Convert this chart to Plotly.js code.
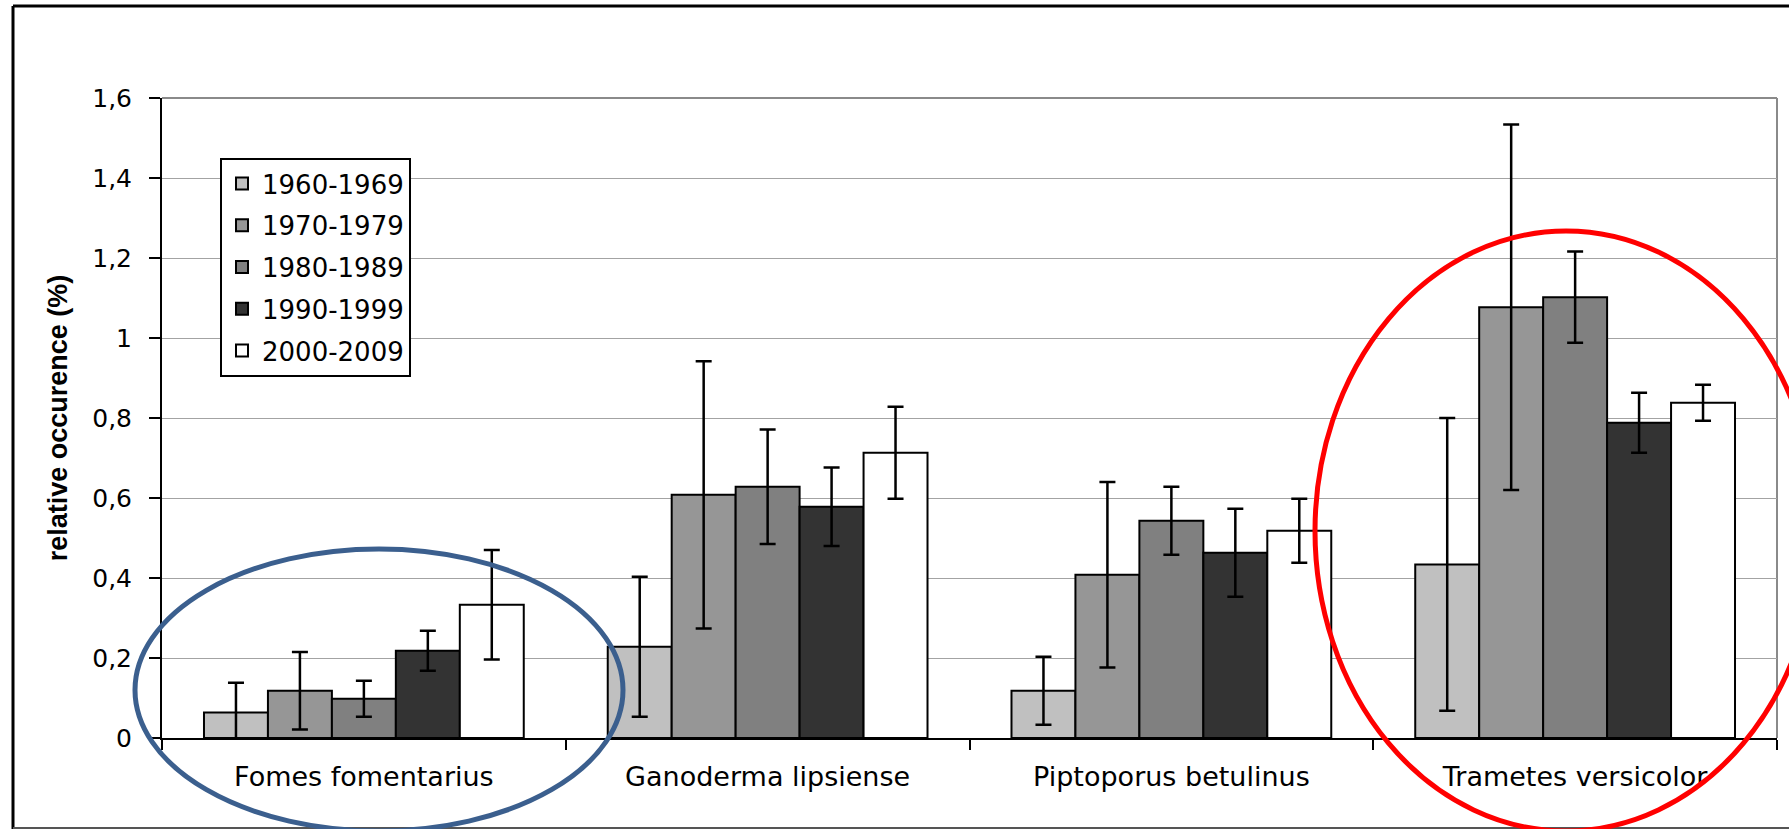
<!DOCTYPE html>
<html>
<head>
<meta charset="utf-8">
<script src="https://cdn.plot.ly/plotly-3.0.1.min.js"></script>
<style>
  html, body { margin: 0; padding: 0; background: #ffffff; }
  #chart { width: 1789px; height: 829px; }
</style>
</head>
<body>
<div id="chart"></div>
<script>
// Wood-decay fungi: relative occurrence per decade (mean ± error)
const species = ['Fomes fomentarius', 'Ganoderma lipsiense', 'Piptoporus betulinus', 'Trametes versicolor'];
const decades = ['1960-1969', '1970-1979', '1980-1989', '1990-1999', '2000-2009'];

const occ1960 = [0.064, 0.228, 0.118, 0.434];
const err1960 = [0.074, 0.175, 0.085, 0.366];
const occ1970 = [0.118, 0.608, 0.408, 1.077];
const err1970 = [0.097, 0.334, 0.232, 0.457];
const occ1980 = [0.098, 0.628, 0.543, 1.102];
const err1980 = [0.045, 0.143, 0.085, 0.114];
const occ1990 = [0.218, 0.578, 0.463, 0.788];
const err1990 = [0.050, 0.098, 0.110, 0.075];
const occ2000 = [0.333, 0.713, 0.518, 0.838];
const err2000 = [0.137, 0.115, 0.080, 0.045];

const yTickVals = [0, 0.2, 0.4, 0.6, 0.8, 1, 1.2, 1.4, 1.6];
const yTickText = ['0', '0,2', '0,4', '0,6', '0,8', '1', '1,2', '1,4', '1,6'];

const fills = ['#c0c0c0', '#969696', '#808080', '#333333', '#ffffff'];
const means = [occ1960, occ1970, occ1980, occ1990, occ2000];
const errors = [err1960, err1970, err1980, err1990, err2000];

const tickFont = 'DejaVu Sans, Verdana, sans-serif';

const traces = decades.map((name, i) => ({
  type: 'bar',
  name: name,
  legendgroup: name,
  x: species,
  y: means[i],
  marker: { color: fills[i], line: { color: '#000000', width: 2 } },
  error_y: { type: 'data', array: errors[i], visible: true, color: '#000000', thickness: 2.5, width: 8 },
  hoverinfo: 'skip'
}));

// plot area spans 162..1777 px horizontally and 98..738 px vertically
const W = 1789, H = 829, L = 162, R = 12, T = 98, B = 91;
const pw = W - L - R, ph = H - T - B;
const px = v => (v - L) / pw;
const py = v => (H - B - v) / ph;

const shapes = [
  // light frame around the plotting region (top and right)
  { type: 'line', xref: 'paper', yref: 'paper', x0: 0, x1: 1, y0: 1, y1: 1,
    line: { color: '#8a8a8a', width: 2 }, layer: 'below' },
  { type: 'line', xref: 'paper', yref: 'paper', x0: 1, x1: 1, y0: 0, y1: 1,
    line: { color: '#8a8a8a', width: 2 }, layer: 'below' },
  // outer border of the figure
  { type: 'line', xref: 'paper', yref: 'paper', x0: px(13), x1: px(13), y0: py(829), y1: py(6),
    line: { color: '#000000', width: 3 } },
  { type: 'line', xref: 'paper', yref: 'paper', x0: px(13), x1: px(1795), y0: py(6), y1: py(6),
    line: { color: '#000000', width: 3 } },
  { type: 'line', xref: 'paper', yref: 'paper', x0: px(13), x1: px(1795), y0: py(828), y1: py(828),
    line: { color: '#555555', width: 2 } },
  // highlight rings
  { type: 'circle', xref: 'paper', yref: 'paper',
    x0: px(135), x1: px(623), y0: py(831), y1: py(549),
    line: { color: '#3b5f8e', width: 5 }, fillcolor: 'rgba(0,0,0,0)' },
  { type: 'circle', xref: 'paper', yref: 'paper',
    x0: px(1315), x1: px(1817), y0: py(831), y1: py(231),
    line: { color: '#ff0000', width: 5 }, fillcolor: 'rgba(0,0,0,0)' }
];

const layout = {
  width: W,
  height: H,
  margin: { l: L, r: R, t: T, b: B, pad: 0 },
  paper_bgcolor: '#ffffff',
  plot_bgcolor: '#ffffff',
  barmode: 'group',
  bargap: 0.208,
  bargroupgap: 0,
  showlegend: true,
  legend: {
    x: px(220), y: py(158), xanchor: 'left', yanchor: 'top',
    bgcolor: '#ffffff', bordercolor: '#000000', borderwidth: 2,
    font: { family: tickFont, size: 26, color: '#000000' },
    traceorder: 'grouped', tracegroupgap: 5
  },
  xaxis: {
    type: 'category',
    showline: true, linecolor: '#000000', linewidth: 2,
    ticks: 'outside', tickson: 'boundaries', ticklen: 10, tickwidth: 2, tickcolor: '#000000',
    tickfont: { family: tickFont, size: 27, color: '#000000' },
    ticklabelstandoff: 14,
    showgrid: false, zeroline: false, fixedrange: true
  },
  yaxis: {
    range: [0, 1.6],
    tickmode: 'array', tickvals: yTickVals, ticktext: yTickText,
    showline: true, linecolor: '#000000', linewidth: 2,
    ticks: 'outside', ticklen: 11, tickwidth: 2, tickcolor: '#000000',
    tickfont: { family: tickFont, size: 25, color: '#000000' },
    ticklabelstandoff: 12,
    showgrid: true, gridcolor: '#a3a3a3', gridwidth: 1,
    zeroline: false, fixedrange: true,
    title: {
      text: 'relative occurence (%)',
      font: { family: 'Liberation Sans, Arial, sans-serif', size: 27, weight: 'bold', color: '#000000' },
      standoff: 17
    }
  },
  shapes: shapes
};

Plotly.newPlot('chart', traces, layout, { displayModeBar: false, staticPlot: true });
</script>
</body>
</html>
